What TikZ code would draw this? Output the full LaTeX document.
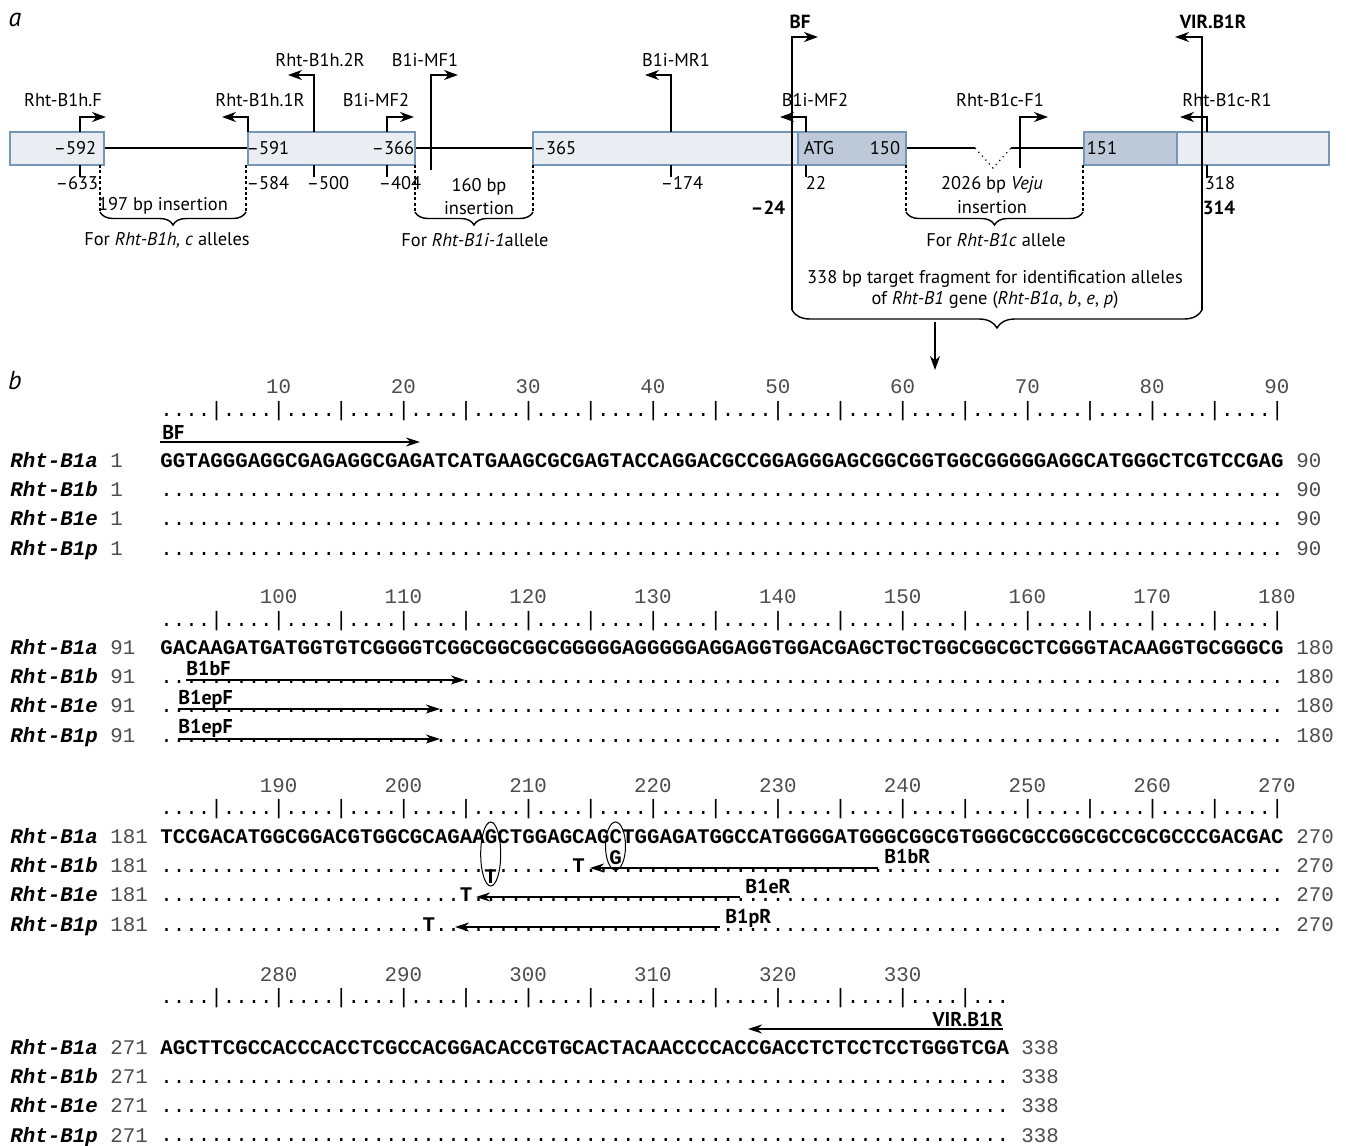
\documentclass[tikz,border=0pt]{standalone}
\usepackage{fontspec}
\setmainfont{PT Sans}
\setmonofont{Liberation Mono}
\usepackage{tikz}
\usetikzlibrary{arrows,arrows.meta,decorations.pathreplacing}

\definecolor{exonfill}{RGB}{234,238,242}
\definecolor{cdsfill}{RGB}{189,200,216}
\definecolor{exonedge}{RGB}{118,150,182}

\ExplSyntaxOn
\NewDocumentCommand{\dotrun}{m}{\prg_replicate:nn{#1}{.}}
\NewDocumentCommand{\tickrun}{m}{\prg_replicate:nn{#1}{....|}}
\ExplSyntaxOff
\newcommand{\seqfont}{\fontsize{10.4}{12}\selectfont\ttfamily}

\begin{document}
\begin{tikzpicture}[x=0.5pt,y=-0.5pt,
    lbl/.style={font=\fontsize{9.2}{11}\selectfont, inner sep=0pt},
    boldlbl/.style={font=\fontsize{9.5}{11}\selectfont\bfseries, inner sep=0pt},
    panel/.style={font=\fontsize{13}{15}\selectfont\itshape, inner sep=0pt},
    exon/.style={draw=exonedge, fill=exonfill, line width=0.7pt},
    cds/.style={draw=exonedge, fill=cdsfill, line width=0.7pt},
    intron/.style={line width=1pt},
    tickmark/.style={line width=0.6pt},
    primer/.style={->, >={Stealth[length=7pt,width=5pt]}, line width=0.75pt},
    target/.style={primer, line width=1.1pt},
    insline/.style={line width=0.6pt, dash pattern=on 1.5pt off 1.2pt},
    bracket/.style={line width=0.7pt, decorate, decoration={brace, mirror, amplitude=#1}},
    seqname/.style={font={\seqfont\bfseries\itshape}, anchor=base west, inner sep=0pt},
    seqnum/.style={font=\seqfont, text=black!70, anchor=base west, inner sep=0pt},
    seqres/.style={font={\seqfont\bfseries}, anchor=base west, inner sep=0pt},
    seqdots/.style={font=\seqfont, anchor=base west, inner sep=0pt},
    rulenum/.style={font=\seqfont, text=black!70, anchor=base, inner sep=0pt},
    plbl/.style={font=\fontsize{10}{12}\selectfont\bfseries, inner sep=0pt},
    seqprimer/.style={->, >={Stealth[length=7pt,width=4.5pt]}, line width=0.7pt}]
    \useasboundingbox (0,0) rectangle (1346,1146);

    % ---------------- a: gene map ----------------
    \node[panel] (pa) at (15,20) {a};
    \draw[intron] (104,148) -- (248,148);
    \draw[intron] (415,148) -- (533,148);
    \draw[intron] (906,148) -- (975,148);
    \draw[line width=0.6pt, dotted] (975,148) -- (993,168) -- (1011,148);
    \draw[intron] (1011,148) -- (1084,148);
    \draw[exon] (10,132) rectangle (104,165);
    \draw[exon] (248,132) rectangle (415,165);
    \draw[exon] (533,132) rectangle (798,165);
    \draw[cds] (798,132) rectangle (906,165);
    \draw[cds] (1084,132) rectangle (1177,165);
    \draw[exon] (1177,132) rectangle (1329,165);
    \node[lbl] (e592) at (75,148) {–592};
    \node[lbl] (e591) at (268,148) {–591};
    \node[lbl] (e366) at (393,148) {–366};
    \node[lbl] (e365) at (555,148) {–365};
    \node[lbl] (atg) at (819,148) {ATG};
    \node[lbl] (c150) at (885,148) {150};
    \node[lbl] (c151) at (1102,148) {151};

    % positions under the bar
    \draw[tickmark] (80,165) -- (80,177);
    \draw[tickmark] (314,165) -- (314,177);
    \draw[tickmark] (387,165) -- (387,177);
    \draw[tickmark] (671,165) -- (671,177);
    \draw[tickmark] (806,165) -- (806,177);
    \draw[tickmark] (1207,165) -- (1207,178);
    \node[lbl] (p633) at (77,183) {–633};
    \node[lbl] (p584) at (268,183) {–584};
    \node[lbl] (p500) at (328,183) {–500};
    \node[lbl] (p404) at (400,183) {–404};
    \node[lbl] (p174) at (682,183) {–174};
    \node[lbl] (p22) at (816,183) {22};
    \node[lbl] (p318) at (1220,183) {318};
    \node[boldlbl] (p24) at (768,208) {–24};
    \node[boldlbl] (p314) at (1219,208) {314};

    % primers
    \coordinate (hFb) at (80,132);    \coordinate (hFt) at (106,117);
    \coordinate (h1Rb) at (248,132);  \coordinate (h1Rt) at (222,117);
    \coordinate (h2Rb) at (314,132);  \coordinate (h2Rt) at (288,75);
    \coordinate (mF2b) at (387,132);  \coordinate (mF2t) at (414,117);
    \coordinate (mF1b) at (431,170);  \coordinate (mF1t) at (458,75);
    \coordinate (mR1b) at (671,132);  \coordinate (mR1t) at (645,75);
    \coordinate (mF2xb) at (806,132); \coordinate (mF2xt) at (780,117);
    \coordinate (cF1b) at (1020,168); \coordinate (cF1t) at (1048,117);
    \coordinate (cR1b) at (1207,132); \coordinate (cR1t) at (1180,117);
    \coordinate (bFb) at (792,310);   \coordinate (bFt) at (818,37);
    \coordinate (virb) at (1202,310); \coordinate (virt) at (1175,37);
    \draw[primer] (hFb) |- (hFt);
    \draw[primer] (h1Rb) |- (h1Rt);
    \draw[primer] (h2Rb) |- (h2Rt);
    \draw[primer] (mF2b) |- (mF2t);
    \draw[primer] (mF1b) |- (mF1t);
    \draw[primer] (mR1b) |- (mR1t);
    \draw[primer] (mF2xb) |- (mF2xt);
    \draw[primer] (cF1b) |- (cF1t);
    \draw[primer] (cR1b) |- (cR1t);
    \draw[target] (bFb) |- (bFt);
    \draw[target] (virb) |- (virt);
    \node[lbl] (lhF) at (63,100) {Rht-B1h.F};
    \node[lbl] (lh1R) at (260,100) {Rht-B1h.1R};
    \node[lbl] (lh2R) at (320,60) {Rht-B1h.2R};
    \node[lbl] (lmF2) at (376,100) {B1i-MF2};
    \node[lbl] (lmF1) at (425,60) {B1i-MF1};
    \node[lbl] (lmR1) at (676,60) {B1i-MR1};
    \node[lbl] (lmF2x) at (815,100) {B1i-MF2};
    \node[lbl] (lcF1) at (1000,100) {Rht-B1c-F1};
    \node[lbl] (lcR1) at (1227,100) {Rht-B1c-R1};
    \node[boldlbl] (lbF) at (800,22) {BF};
    \node[boldlbl] (lvir) at (1213,22) {VIR.B1R};

    % insertions
    \draw[insline] (100,165) -- (100,212);
    \draw[insline] (246,165) -- (246,212);
    \draw[insline] (415,165) -- (415,212);
    \draw[insline] (533,165) -- (533,212);
    \draw[insline] (906,165) -- (906,212);
    \draw[insline] (1083,165) -- (1083,212);
    \draw[bracket=6.5pt] (100,212) -- (246,212);
    \draw[bracket=6.5pt] (415,212) -- (533,212);
    \draw[bracket=6.5pt] (906,212) -- (1083,212);
    \draw[bracket=9pt] (bFb) -- (virb);
    \node[lbl] (ins197) at (163,206) {197 bp insertion};
    \node[lbl] (for197) at (167,240) {For \textit{Rht-B1h, c} alleles};
    \node[lbl] (ins160) at (479,187) {160 bp};
    \node[lbl] (ins160b) at (479,208) {insertion};
    \node[lbl] (for160) at (475,240) {For \textit{Rht-B1i-1}allele};
    \node[lbl] (insveju) at (992,185) {2026 bp \textit{Veju}};
    \node[lbl] (insvejub) at (992,207) {insertion};
    \node[lbl] (forveju) at (996,240) {For \textit{Rht-B1c} allele};
    \node[lbl] (frag1) at (995,279) {338 bp target fragment for identification alleles};
    \node[lbl] (frag2) at (995,300) {of \textit{Rht-B1} gene (\textit{Rht-B1a}, \textit{b}, \textit{e}, \textit{p})};
    \coordinate (fragout) at (935,322);
    \coordinate (seqin) at (935,370);
    \draw[primer] (fragout) -- (seqin);

    % ---------------- b: alignment ----------------
    \node[panel] (pb) at (15,381) {b};
    \foreach \off/\yb/\kmax in {0/393/9, 90/603/9, 180/792/9, 270/981/6} {
        \foreach \k in {1,...,\kmax} {
            \pgfmathtruncatemacro{\lab}{\off+10*\k}
            \node[rulenum] (rn\lab) at ({160+(10*\k-0.5)*12.48},\yb) {\lab};
        }
    }
    \node[seqdots] (rule1) at (160,416) {\tickrun{18}};
    \node[seqdots] (rule2) at (160,626) {\tickrun{18}};
    \node[seqdots] (rule3) at (160,814) {\tickrun{18}};
    \node[seqdots] (rule4) at (160,1003) {\tickrun{13}...};
    \foreach \blk/\ya/\first/\last/\xend in {1/467/1/90/1296, 2/654/91/180/1296, 3/843/181/270/1296, 4/1054/271/338/1021} {
        \foreach \al/\dy in {a/0, b/29, e/58, p/88} {
            \node[seqname] (nm\blk\al) at (10,\ya+\dy) {Rht-B1\al};
            \node[seqnum] (fr\blk\al) at (110,\ya+\dy) {\first};
            \node[seqnum] (to\blk\al) at (\xend,\ya+\dy) {\last};
        }
    }
    \node[seqres] (q1a) at (160,467) {GGTAGGGAGGCGAGAGGCGAGATCATGAAGCGCGAGTACCAGGACGCCGGAGGGAGCGGCGGTGGCGGGGGAGGCATGGGCTCGTCCGAG};
    \node[seqdots] (q1b) at (160,496) {\dotrun{90}};
    \node[seqdots] (q1e) at (160,525) {\dotrun{90}};
    \node[seqdots] (q1p) at (160,555) {\dotrun{90}};
    \node[seqres] (q2a) at (160,654) {GACAAGATGATGGTGTCGGGGTCGGCGGCGGCGGGGGAGGGGGAGGAGGTGGACGAGCTGCTGGCGGCGCTCGGGTACAAGGTGCGGGCG};
    \node[seqdots] (q2b) at (160,683) {\dotrun{90}};
    \node[seqdots] (q2e) at (160,712) {\dotrun{90}};
    \node[seqdots] (q2p) at (160,742) {\dotrun{90}};
    \node[seqres] (q3a) at (160,843) {TCCGACATGGCGGACGTGGCGCAGAAGCTGGAGCAGCTGGAGATGGCCATGGGGATGGGCGGCGTGGGCGCCGGCGCCGCGCCCGACGAC};
    \node[seqdots] (q3b) at (160,872) {\dotrun{33}\textbf{T}\dotrun{56}};
    \node[seqdots] (q3e) at (160,901) {\dotrun{24}\textbf{T}\dotrun{65}};
    \node[seqdots] (q3p) at (160,931) {\dotrun{21}\textbf{T}\dotrun{68}};
    \node[seqres] (q4a) at (160,1054) {AGCTTCGCCACCCACCTCGCCACGGACACCGTGCACTACAACCCCACCGACCTCTCCTCCTGGGTCGA};
    \node[seqdots] (q4b) at (160,1083) {\dotrun{68}};
    \node[seqdots] (q4e) at (160,1112) {\dotrun{68}};
    \node[seqdots] (q4p) at (160,1141) {\dotrun{68}};

    % SNP marks
    \node[seqres, anchor=base] (snpT) at (490.7,883) {T};
    \node[seqres, anchor=base] (snpG) at (615.5,864) {G};
    \draw[line width=0.5pt] (490.7,854) ellipse [x radius=5pt, y radius=16pt];
    \draw[line width=0.5pt] (615.5,846) ellipse [x radius=5pt, y radius=12pt];

    % primers on the alignment
    \coordinate (bfS) at (160,442);  \coordinate (bfE) at (420,442);
    \coordinate (bbfS) at (186,680); \coordinate (bbfE) at (465,680);
    \coordinate (efS) at (178,709);  \coordinate (efE) at (440,709);
    \coordinate (pfS) at (178,739);  \coordinate (pfE) at (440,739);
    \coordinate (brS) at (878,868);  \coordinate (brE) at (590,868);
    \coordinate (erS) at (740,897);  \coordinate (erE) at (476,897);
    \coordinate (prS) at (720,927);  \coordinate (prE) at (455,927);
    \coordinate (vrS) at (1003,1029); \coordinate (vrE) at (748,1029);
    \draw[seqprimer] (bfS) -- (bfE);
    \draw[seqprimer] (bbfS) -- (bbfE);
    \draw[seqprimer] (efS) -- (efE);
    \draw[seqprimer] (pfS) -- (pfE);
    \draw[seqprimer] (brS) -- (brE);
    \draw[seqprimer] (erS) -- (erE);
    \draw[seqprimer] (prS) -- (prE);
    \draw[seqprimer] (vrS) -- (vrE);
    \node[plbl, anchor=base west] (lbf) at (162,439) {BF};
    \node[plbl, anchor=base west] (lbbf) at (186,675) {B1bF};
    \node[plbl, anchor=base west] (lef) at (178,704) {B1epF};
    \node[plbl, anchor=base west] (lpf) at (178,733) {B1epF};
    \node[plbl, anchor=base west] (lbr) at (884,863) {B1bR};
    \node[plbl, anchor=base west] (ler) at (745,893) {B1eR};
    \node[plbl, anchor=base west] (lpr) at (725,923) {B1pR};
    \node[plbl, anchor=base east] (lvr) at (1003,1026) {VIR.B1R};
\end{tikzpicture}
\end{document}
